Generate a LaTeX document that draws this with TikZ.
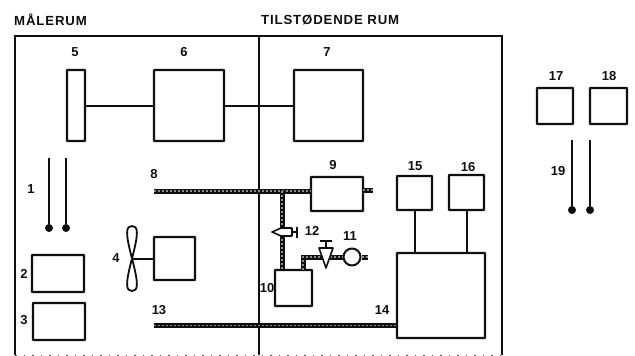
\documentclass[tikz,border=0pt]{standalone}
\usepackage{fontspec}
\setmainfont{Liberation Sans}
\definecolor{ink}{gray}{0.06}
\tikzset{
 unit/.style={draw=ink,line width=2.3pt,fill=white,inner sep=0pt,outer sep=0pt,minimum width=#1,rounded corners=0.6pt},
 lbl/.style={font=\bfseries\fontsize{13}{14}\selectfont,text=ink,inner sep=0pt},
 ttl/.style={font=\bfseries\fontsize{13.2}{14}\selectfont\addfontfeature{LetterSpace=6.5},text=ink,inner sep=0pt,anchor=west},
 wire/.style={draw=ink,line width=2pt},
 pipe/.style={preaction={draw=ink,line width=5pt},draw=black!45,line width=1.4pt,dash pattern=on 2pt off 2pt},
 sensor/.style={circle,fill=ink,draw=ink,minimum size=7.5pt,inner sep=0pt}
}
\begin{document}
\begin{tikzpicture}[x=1pt,y=-1pt]
\useasboundingbox (0,0) rectangle (635,356);
\fill[white] (0,0) rectangle (635,356);
\coordinate (tl) at (15,36); \coordinate (tr) at (502,36);
\coordinate (bl) at (15,355); \coordinate (br) at (502,355);
\coordinate (dt) at (259,36); \coordinate (db) at (259,355);
\draw[ink!70,line width=0.7pt,dash pattern=on 1.5pt off 7pt] (bl) -- (br);
\draw[wire,line width=2.4pt] (bl) -- (tl) -- (tr) -- (br);
\draw[wire] (dt) -- (db);
\newcommand{\ubox}[5]{\node[unit=#4pt,minimum height=#5pt,anchor=north west] (#1) at (#2,#3) {};}
\ubox{b5}{67}{70}{18}{71}
\ubox{b6}{154}{70}{70}{71}
\ubox{b7}{294}{70}{69}{71}
\ubox{b2}{32}{255}{52}{37}
\ubox{b3}{33}{303}{52}{37}
\ubox{b4}{154}{237}{41}{43}
\ubox{b9}{311}{177}{52}{34}
\ubox{b10}{275}{270}{37}{36}
\ubox{b14}{397}{253}{88}{85}
\ubox{b15}{397}{176}{35}{34}
\ubox{b16}{449}{175}{35}{35}
\ubox{b17}{537}{88}{36}{36}
\ubox{b18}{590}{88}{37}{36}
\draw[wire] (b5.east) -- (b6.west);
\draw[wire] (b6.east) -- (b7.west);
\draw[wire] (b15.south) -- (b15.south|-b14.north);
\draw[wire] (b16.south) -- (b16.south|-b14.north);
\coordinate (fan) at (132,258.5);
\draw[wire] (b4.west) -- (fan);
\draw[ink,line width=1.8pt] (fan) .. controls (125,232) and (126,226) .. (132,226) .. controls (138,226) and (139,232) .. (fan)
 .. controls (125,285) and (126,291) .. (132,291) .. controls (138,291) and (139,285) .. (fan);
% wires with sensors
\node[sensor] (s1) at (49,228) {}; \node[sensor] (s2) at (66,228) {};
\coordinate (w1) at (49,158); \coordinate (w2) at (66,158);
\draw[wire,line width=1.6pt] (w1) -- (s1); \draw[wire,line width=1.6pt] (w2) -- (s2);
\node[sensor] (s3) at (572,210) {}; \node[sensor] (s4) at (590,210) {};
\coordinate (w3) at (572,140); \coordinate (w4) at (590,140);
\draw[wire] (w3) -- (s3); \draw[wire] (w4) -- (s4);
% pipes
\coordinate (p8) at (154,191); \coordinate (pj) at (282,191);
\coordinate (p13) at (154,325.5);
\coordinate (q1) at (303,270); \coordinate (q2) at (303,257);
\coordinate (v12) at (282,232); \coordinate (v11) at (326,248);
\node[circle,draw=ink,line width=2pt,fill=white,minimum size=17pt,inner sep=0pt] (c11) at (352,257) {};
\coordinate (e11) at (368,257); \coordinate (e9) at (373,190);
\draw[pipe] (p8) -- (b9.west|-p8);
\draw[pipe] (pj) -- (pj|-b10.north);
\draw[pipe] (p13) -- (b14.west|-p13);
\draw[pipe] (q1) -- (q2) -- (c11.west);
\draw[pipe] (b9.east|-e9) -- (e9);
\draw[pipe] (c11.east) -- (e11);
% valves
\draw[ink,line width=1.6pt,fill=white,line join=round] (v11)+(-7,0) -- ++(7,0) -- ++(-7,20) -- cycle;
\draw[ink,line width=2pt] (v11)+(0,0) -- +(0,-7) +(-6,-7) -- +(6,-7);
\draw[ink,line width=1.6pt,fill=white,line join=round] (v12)+(-10,0) -- +(-1,-4) -- +(10,-4) -- +(10,4) -- +(-1,4) -- cycle;
\draw[ink,line width=2pt] (v12)+(10,0) -- +(15,0) +(15,-5.5) -- +(15,5.5);
% labels
\node[ttl] at (14,20) {MÅLERUM};
\node[ttl] at (261,20) {TILSTØDENDE RUM};
\node[lbl] at (75,52) {5}; \node[lbl] at (184,52) {6}; \node[lbl] at (327,52) {7};
\node[lbl] at (31,189) {1}; \node[lbl] at (24,274) {2}; \node[lbl] at (24,320) {3};
\node[lbl] at (116,258) {4}; \node[lbl] at (154,174) {8}; \node[lbl] at (333,165) {9};
\node[lbl] at (267,288) {10}; \node[lbl] at (350,236) {11}; \node[lbl] at (312,231) {12};
\node[lbl] at (159,310) {13}; \node[lbl] at (382,310) {14};
\node[lbl] at (415,166) {15}; \node[lbl] at (468,167) {16};
\node[lbl] at (556,76) {17}; \node[lbl] at (609,76) {18}; \node[lbl] at (558,171) {19};
\end{tikzpicture}
\end{document}
